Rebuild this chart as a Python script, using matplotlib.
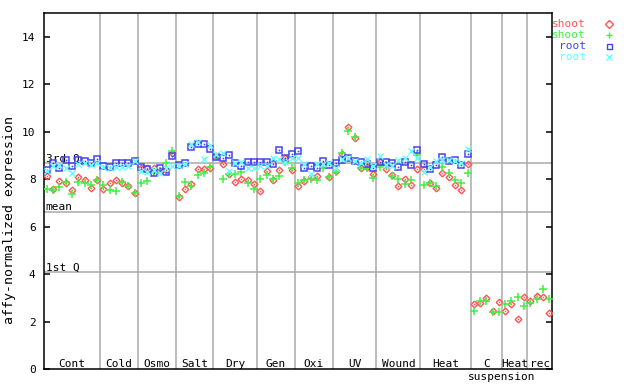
import numpy as np
import matplotlib
matplotlib.use("Agg")
import matplotlib.pyplot as plt

plt.rcParams['font.family'] = ['DejaVu Sans Mono']

# condition groups and number of samples in each
groups = ["Cont", "Cold", "Osmo", "Salt", "Dry", "Gen", "Oxi", "UV", "Wound", "Heat", "C", "Heat", "rec"]
group_sizes = [9, 6, 6, 6, 7, 6, 6, 7, 7, 8, 5, 4, 4]

# shoot (red diamond)
shoot_a = [8.13, 7.57, 7.92, 7.85, 7.54, 8.09, 7.97, 7.64, 7.97,
           7.57, 7.85, 7.95, 7.85, 7.71, 7.43,
           8.45, 8.49, 8.49, 8.35, 8.39, 9.12,
           7.25, 7.60, 7.81, 8.42, 8.42, 8.49,
           8.98, 8.63, 8.21, 7.90, 8.02, 7.95, 7.78,
           7.50, 8.35, 7.95, 8.39, 8.91, 8.39,
           7.71, 7.92, 8.09, 8.13, 8.59, 8.07,
           8.35, 9.08, 10.21, 9.72, 8.45, 8.50, 8.21,
           8.74, 8.42, 8.18, 7.69, 7.99, 7.74, 8.42,
           8.42, 7.85, 7.61, 8.25, 8.11, 7.75, 7.53, 8.63,
           2.74, 2.78, 2.99, 2.45, 2.82,
           2.45, 2.74, 2.10, 3.03,
           2.88, 3.09, 3.03, 2.36]
# shoot (green plus)
shoot_b = [7.57, 7.55, 7.67, 7.90, 7.37, 7.90, 7.85, 7.75, 7.98,
           7.75, 7.54, 7.49, 7.87, 7.71, 7.40,
           7.85, 7.92, 8.30, 8.35, 8.70, 9.19,
           7.30, 7.87, 7.69, 8.16, 8.24, 8.53,
           8.94, 8.02, 8.20, 8.21, 8.28, 7.83, 7.60,
           8.02, 8.16, 7.99, 8.13, 8.73, 8.49,
           7.85, 7.97, 7.99, 7.97, 8.45, 8.10,
           8.32, 9.12, 10.01, 9.76, 8.49, 8.45, 8.04,
           8.53, 8.60, 8.13, 7.99, 7.81, 7.97, 9.01,
           7.74, 7.83, 7.71, 8.53, 8.25, 7.97, 7.83, 8.24,
           2.45, 2.88, 2.88, 2.40, 2.40,
           2.74, 2.88, 3.03, 2.66,
           2.78, 2.95, 3.37, 2.95]
# root (blue square) - no root samples for suspension cells
root_a = [8.39, 8.66, 8.45, 8.79, 8.57, 8.79, 8.76, 8.66, 8.83,
          8.56, 8.52, 8.70, 8.66, 8.68, 8.77,
          8.53, 8.42, 8.24, 8.45, 8.28, 8.97,
          8.60, 8.70, 9.35, 9.48, 9.50, 9.29,
          8.95, 8.91, 9.00, 8.70, 8.57, 8.74, 8.74,
          8.74, 8.74, 8.63, 9.21, 8.91, 9.05,
          9.17, 8.49, 8.56, 8.49, 8.77, 8.59,
          8.66, 8.81, 8.87, 8.77, 8.74, 8.63, 8.46,
          8.74, 8.74, 8.66, 8.53, 8.74, 8.59, 9.21,
          8.63, 8.42, 8.60, 8.95, 8.77, 8.81, 8.60, 9.05] + [np.nan] * 13
# root (cyan x)
root_b = [8.35, 8.55, 8.60, 8.45, 8.25, 8.62, 8.66, 8.60, 8.66,
          8.50, 8.45, 8.50, 8.50, 8.55, 8.75,
          8.35, 8.30, 8.40, 8.24, 8.45, 8.56,
          8.55, 8.62, 9.50, 9.55, 8.84, 9.44,
          9.08, 9.12, 8.35, 8.70, 8.73, 8.49, 8.49,
          8.56, 8.56, 8.91, 8.84, 8.73, 8.91,
          8.90, 8.63, 8.21, 8.63, 8.65, 8.70,
          8.45, 8.85, 8.90, 8.75, 8.70, 8.84, 8.56,
          8.98, 8.60, 8.55, 8.81, 8.88, 9.17, 8.91,
          8.28, 8.50, 8.77, 8.80, 8.80, 8.75, 8.70, 9.29] + [np.nan] * 13

q1, mean_val, q3 = 4.08, 6.63, 8.68

RED, GREEN, BLUE, CYAN = "#ff5555", "#44ee44", "#4444ee", "#66ffff"
GRID = "#aaaaaa"
FS = 8

fig = plt.figure(figsize=(6.4, 3.84), dpi=100)
ax = fig.add_axes([44 / 640, 15 / 384, 508 / 640, 356 / 384])

n = len(shoot_a)
x = np.arange(n)
ax.set_xlim(-0.45, n - 0.55)
ax.set_ylim(0, 15)

# reference lines
for v in (q1, mean_val, q3):
    ax.axhline(v, color=GRID, lw=1.1, zorder=1)
ax.text(0.003, q3 + 0.07, "3rd Q", transform=ax.get_yaxis_transform(), fontsize=FS, va="baseline")
ax.text(0.003, mean_val + 0.07, "mean", transform=ax.get_yaxis_transform(), fontsize=FS, va="baseline")
ax.text(0.003, q1 + 0.07, "1st Q", transform=ax.get_yaxis_transform(), fontsize=FS, va="baseline")

# group dividers and labels
edges = np.cumsum(group_sizes)
starts = np.concatenate([[0], edges[:-1]])
for e in edges[:-1]:
    ax.axvline(e - 0.5, color=GRID, lw=1.1, zorder=1)
for name, s, e in zip(groups, starts, edges):
    ax.text((s + e - 1) / 2, 0.014, name, transform=ax.get_xaxis_transform(),
            ha="center", va="center", fontsize=FS)
ax.text(starts[10] + (edges[12] - starts[10] - 1) / 2 - 1.5, -0.022, "suspension",
        transform=ax.get_xaxis_transform(), ha="center", va="center", fontsize=FS, clip_on=False)

# points
ax.plot(x, shoot_a, ls="none", marker="D", ms=3.4, mfc="none", mec=RED, mew=1, zorder=3)
ax.plot(x, shoot_a, ls="none", marker="s", ms=1, mfc=RED, mec=RED, mew=0, zorder=3)
ax.plot(x, shoot_b, ls="none", marker="+", ms=5.5, mec=GREEN, mew=1.1, zorder=3)
ax.plot(x, root_a, ls="none", marker="s", ms=4.5, mfc="none", mec=BLUE, mew=1.1, zorder=3)
ax.plot(x, root_a, ls="none", marker="s", ms=1.2, mfc=BLUE, mec=BLUE, mew=0, zorder=3)
ax.plot(x, root_b, ls="none", marker="x", ms=4.5, mec=CYAN, mew=1, zorder=3)

ax.set_xticks([])
ax.set_yticks(np.arange(0, 15, 2))
ax.tick_params(axis="y", direction="in", length=4.5, width=1.1, pad=6, labelsize=FS,
               right=True)
for sp in ax.spines.values():
    sp.set_linewidth(1.1)

fig.text(10 / 640, 1 - 220 / 384, "affy-normalized expression", rotation=90,
         ha="center", va="center", fontsize=9.5)

# legend
labels = ["shoot", "shoot", "root", "root"]
colors = [RED, GREEN, BLUE, CYAN]
markers = ["D", "+", "s", "x"]
for k, (lab, c, m) in enumerate(zip(labels, colors, markers)):
    yy = 1 - (24 + 11 * k) / 384
    fig.text(586 / 640, yy, lab, color=c, ha="right", va="center", fontsize=FS)
    if m in ("+", "x"):
        fig.lines.append(plt.Line2D([609 / 640], [yy], marker=m, ms=4.5, mec=c, mew=1,
                                    transform=fig.transFigure))
    else:
        fig.lines.append(plt.Line2D([609 / 640], [yy], marker=m, ms=3.6, mfc="none", mec=c,
                                    mew=1, transform=fig.transFigure))

fig.savefig("out.png", dpi=100)
